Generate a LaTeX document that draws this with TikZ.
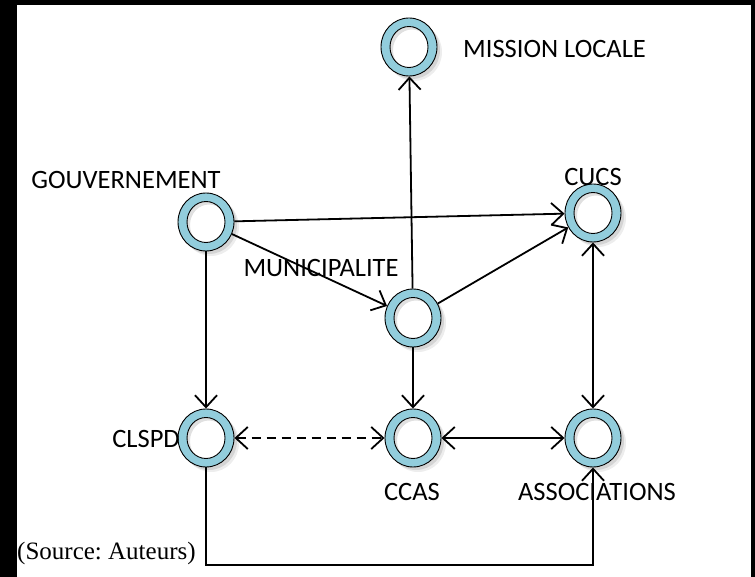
\documentclass[tikz,border=0pt]{standalone}
\usepackage{fontspec}
\setmainfont{Carlito}
\newfontfamily\srcfont{Liberation Serif}
\usetikzlibrary{arrows.meta,shapes.geometric}
\definecolor{ringblue}{RGB}{146,205,220}
\frenchspacing
\tikzset{
  ring/.style={ellipse, draw=black, line width=0.9pt, fill=ringblue,
    minimum width=56pt, minimum height=58pt, inner sep=0pt,
    preaction={fill=black, opacity=0.07, transform canvas={shift={(5pt,-5pt)}}},
    preaction={fill=black, opacity=0.10, transform canvas={shift={(3pt,-3pt)}}},
    path picture={
      \begin{scope}
        \clip (path picture bounding box.center) ellipse [x radius=19pt, y radius=20.5pt];
        \fill[white] (path picture bounding box.center) ellipse [x radius=19pt, y radius=20.5pt];
        \fill[black, opacity=0.12, even odd rule]
          ([shift={(-30pt,-35pt)}]path picture bounding box.center) rectangle ([shift={(30pt,35pt)}]path picture bounding box.center)
          ([shift={(3pt,-3pt)}]path picture bounding box.center) ellipse [x radius=19pt, y radius=20.5pt];
      \end{scope}
      \draw[line width=0.9pt] (path picture bounding box.center) ellipse [x radius=19pt, y radius=20.5pt];
    }},
  lbl/.style={font=\fontsize{26.5}{30}\selectfont, inner sep=0pt},
  conn/.style={line width=1.8pt},
  tip/.tip={Straight Barb[length=12pt,width=22pt]},
  arr/.style={conn, -tip},
  darr/.style={conn, tip-tip},
}
\begin{document}
\begin{tikzpicture}[x=1pt,y=-1pt]
\useasboundingbox (0,0) rectangle (755,577);
\fill[black] (0,0) rectangle (755,577);
\fill[white] (17,5) rectangle (751,577);

\node[ring] (mission) at (409,47) {};
\node[ring] (gouv) at (206,222) {};
\node[ring] (cucs) at (593,213) {};
\node[ring] (muni) at (413,318) {};
\node[ring] (clspd) at (206,438) {};
\node[ring] (ccas) at (413,438) {};
\node[ring] (assoc) at (593,438) {};

\node[lbl, anchor=west] (lmission) at (463,49) {MISSION LOCALE};
\node[lbl] (lgouv) at (126,180) {GOUVERNEMENT};
\node[lbl] (lcucs) at (593,177) {CUCS};
\node[lbl] (lmuni) at (321,268) {MUNICIPALITE};
\node[lbl, anchor=east] (lclspd) at (180,439) {CLSPD};
\node[lbl] (lccas) at (412,492) {CCAS};
\node[lbl] (lassoc) at (597,492) {ASSOCIATIONS};
\node[font=\srcfont\fontsize{25}{28}\selectfont, inner sep=0pt, anchor=west] (src) at (17,553) {(Source: Auteurs)};

\coordinate (elb) at (400,565);

\draw[arr] (gouv) -- (cucs);
\draw[arr] (gouv) -- (muni);
\draw[arr] (muni) -- (cucs);
\draw[arr] (muni) -- (mission);
\draw[arr] (muni) -- (ccas);
\draw[arr] (gouv) -- (clspd);
\draw[darr] (cucs) -- (assoc);
\draw[darr, dash pattern=on 9pt off 6pt] (clspd) -- (ccas);
\draw[darr] (ccas) -- (assoc);
\draw[arr] (clspd.south) -- (clspd.south |- elb) -| (assoc.south);
\end{tikzpicture}
\end{document}
